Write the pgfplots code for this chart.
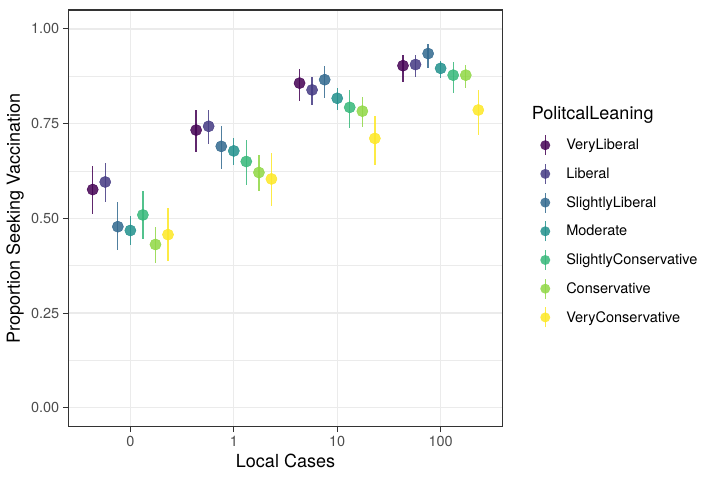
\documentclass[border=0pt]{standalone}
\usepackage{pgfplots}
\pgfplotsset{compat=1.18}
\usepackage{fontspec}
\setmainfont{TeX Gyre Heros}
\definecolor{c1}{HTML}{440154}
\definecolor{c2}{HTML}{443A83}
\definecolor{c3}{HTML}{31688E}
\definecolor{c4}{HTML}{21908C}
\definecolor{c5}{HTML}{35B779}
\definecolor{c6}{HTML}{8FD744}
\definecolor{c7}{HTML}{FDE725}
\definecolor{gridc}{HTML}{EBEBEB}
\definecolor{tickc}{HTML}{4D4D4D}
\definecolor{borderc}{HTML}{333333}
\pgfplotsset{
  ser/.style={color=#1, mark=*, only marks, mark size=5.6pt, solid,
    mark options={draw=none, fill=#1, solid, fill opacity=0.85},
    error bars/.cd, y dir=both, y explicit, error mark=none,
    error bar style={line width=1.3pt, color=#1, solid, draw opacity=0.85},
    /pgfplots/legend image code/.code={
      \path[draw=none, fill=none] (-6pt,-14.35pt) rectangle (19pt,14.35pt);
      \draw[color=#1, line width=1.3pt, solid, draw opacity=0.85] (0pt,-10pt) -- (0pt,10pt);
      \fill[color=#1, draw=none, fill opacity=0.85] (0pt,0pt) circle (5pt);
    }
  }
}
\newcommand{\smallfs}{\fontsize{14.5}{17}\selectfont}
\newcommand{\bigfs}{\fontsize{18}{21}\selectfont}
\begin{document}
\begin{tikzpicture}
\useasboundingbox (0,0) rectangle (720pt,480pt);
\begin{axis}[
  at={(68.3pt,53.3pt)}, anchor=south west,
  width=434.4pt, height=416.7pt, scale only axis,
  xmin=-0.6, xmax=3.6, ymin=-0.05, ymax=1.05,
  xtick={0,1,2,3}, xticklabels={0,1,10,100},
  ytick={0,0.25,0.5,0.75,1}, yticklabels={0.00,0.25,0.50,0.75,1.00},
  minor ytick={0.125,0.375,0.625,0.875},
  xtick pos=bottom, ytick pos=left,
  grid=both,
  major grid style={color=gridc, line width=1.2pt},
  minor grid style={color=gridc, line width=0.6pt},
  minor tick length=0pt,
  major tick length=5.5pt,
  tick align=outside,
  tick style={color=borderc, line width=1.1pt},
  axis line style={color=borderc, line width=1.1pt},
  ticklabel style={font=\smallfs, color=tickc},
  /pgf/number format/assume math mode=true,
  xlabel={Local Cases}, ylabel={Proportion Seeking Vaccination},
  label style={font=\bigfs, color=black},
  xlabel style={at={(axis description cs:0.5,-0.0823)}, anchor=center},
  ylabel style={at={(axis description cs:-0.1225,0.5)}, anchor=center},
  legend style={at={(1.0837,0.7105)}, anchor=north west, draw=none,
    fill=none, inner sep=0pt, row sep=0pt,
    nodes={inner sep=2pt, font=\smallfs}},
  legend cell align=left,
]
\addplot[ser=c1] coordinates {
 (-0.364,0.576) += (0,0.063) -= (0,0.064)
 (0.636,0.733) += (0,0.052) -= (0,0.058)
 (1.636,0.857) += (0,0.037) -= (0,0.048)
 (2.636,0.903) += (0,0.029) -= (0,0.043)
};
\addlegendentry{VeryLiberal}
\addplot[ser=c2] coordinates {
 (-0.243,0.596) += (0,0.050) -= (0,0.052)
 (0.757,0.743) += (0,0.042) -= (0,0.048)
 (1.757,0.839) += (0,0.035) -= (0,0.039)
 (2.757,0.906) += (0,0.025) -= (0,0.034)
};
\addlegendentry{Liberal}
\addplot[ser=c3] coordinates {
 (-0.121,0.478) += (0,0.064) -= (0,0.061)
 (0.879,0.690) += (0,0.055) -= (0,0.060)
 (1.879,0.866) += (0,0.037) -= (0,0.048)
 (2.879,0.935) += (0,0.025) -= (0,0.039)
};
\addlegendentry{SlightlyLiberal}
\addplot[ser=c4] coordinates {
 (0,0.468) += (0,0.037) -= (0,0.038)
 (1,0.678) += (0,0.034) -= (0,0.036)
 (2,0.817) += (0,0.027) -= (0,0.031)
 (3,0.896) += (0,0.020) -= (0,0.025)
};
\addlegendentry{Moderate}
\addplot[ser=c5] coordinates {
 (0.121,0.509) += (0,0.063) -= (0,0.063)
 (1.121,0.650) += (0,0.058) -= (0,0.063)
 (2.121,0.793) += (0,0.046) -= (0,0.055)
 (3.121,0.878) += (0,0.035) -= (0,0.047)
};
\addlegendentry{SlightlyConservative}
\addplot[ser=c6] coordinates {
 (0.243,0.431) += (0,0.047) -= (0,0.048)
 (1.243,0.621) += (0,0.047) -= (0,0.048)
 (2.243,0.783) += (0,0.037) -= (0,0.043)
 (3.243,0.878) += (0,0.027) -= (0,0.035)
};
\addlegendentry{Conservative}
\addplot[ser=c7] coordinates {
 (0.364,0.457) += (0,0.071) -= (0,0.070)
 (1.364,0.604) += (0,0.069) -= (0,0.072)
 (2.364,0.711) += (0,0.060) -= (0,0.070)
 (3.364,0.786) += (0,0.053) -= (0,0.066)
};
\addlegendentry{VeryConservative}
\end{axis}
\node[anchor=west, inner sep=0pt, font=\bigfs] at (531.7pt,365pt) {PolitcalLeaning};
\end{tikzpicture}
\end{document}
